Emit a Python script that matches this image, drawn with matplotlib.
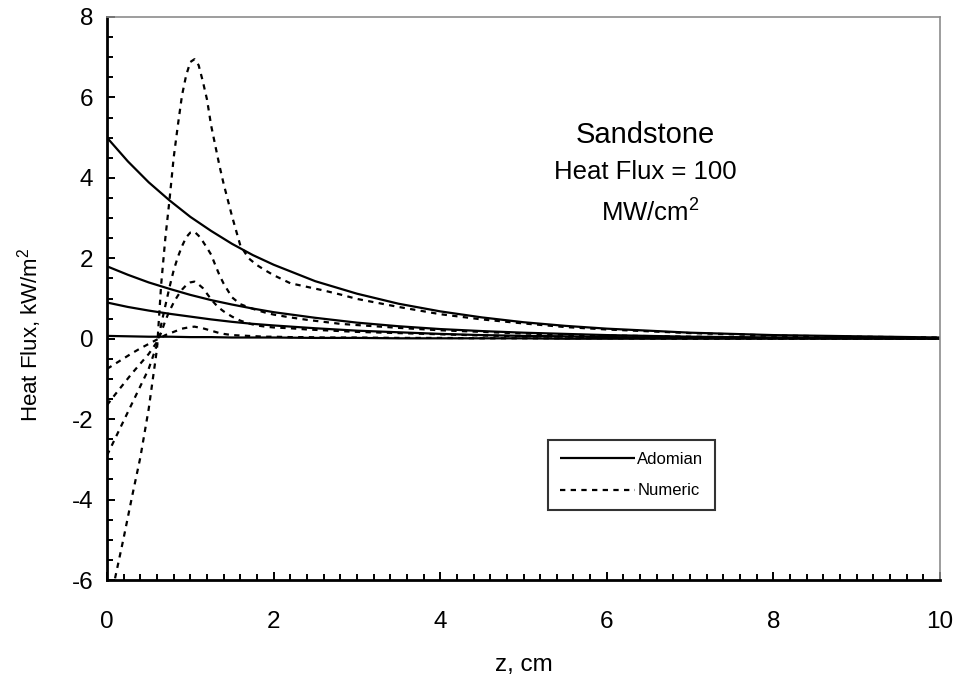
import matplotlib
matplotlib.use("Agg")
import matplotlib.pyplot as plt
from matplotlib.ticker import MultipleLocator

plt.rcParams['font.family'] = ['Liberation Sans', 'DejaVu Sans']
plt.rcParams['mathtext.fontset'] = 'custom'
plt.rcParams['mathtext.rm'] = 'Liberation Sans'
plt.rcParams['axes.unicode_minus'] = False

# ---- data ----
z_adomian = [0, 0.25, 0.5, 0.75, 1, 1.25, 1.5, 1.75, 2, 2.5, 3, 3.5, 4, 4.5, 5, 5.5, 6, 7, 8, 9, 10]
adomian_1 = [5.00, 4.41, 3.89, 3.44, 3.03, 2.68, 2.36, 2.08, 1.84, 1.43, 1.12, 0.87, 0.68, 0.53, 0.41, 0.32, 0.25, 0.15, 0.09, 0.06, 0.03]
adomian_2 = [1.80, 1.59, 1.40, 1.24, 1.09, 0.96, 0.85, 0.75, 0.66, 0.52, 0.40, 0.31, 0.24, 0.19, 0.15, 0.12, 0.09, 0.05, 0.03, 0.02, 0.01]
adomian_3 = [0.90, 0.79, 0.70, 0.62, 0.55, 0.48, 0.42, 0.37, 0.33, 0.26, 0.20, 0.16, 0.12, 0.09, 0.07, 0.06, 0.04, 0.03, 0.02, 0.01, 0.01]
adomian_4 = [0.07, 0.06, 0.05, 0.05, 0.04, 0.04, 0.03, 0.03, 0.03, 0.02, 0.02, 0.01, 0.01, 0.01, 0.01, 0.00, 0.00, 0.00, 0.00, 0.00, 0.00]

z_numeric = [0, 0.1, 0.2, 0.3, 0.4, 0.5, 0.6, 0.65, 0.7, 0.75, 0.8, 0.85, 0.9, 0.95, 1.0, 1.05,
             1.1, 1.15, 1.2, 1.25, 1.3, 1.35, 1.4, 1.5, 1.6, 1.7, 1.8, 1.9, 2.0, 2.2, 2.4, 2.6,
             2.8, 3.0, 3.5, 4, 4.5, 5, 5.5, 6, 7, 8, 9, 10]
numeric_1 = [-7.00, -5.92, -4.95, -3.93, -2.95, -1.75, -0.25, 1.35, 2.50, 3.45, 4.50, 5.30, 6.05, 6.55, 6.88, 6.95,
             6.80, 6.40, 5.95, 5.30, 4.80, 4.30, 3.85, 3.05, 2.32, 2.00, 1.83, 1.70, 1.58, 1.38, 1.29, 1.20,
             1.10, 0.99, 0.79, 0.61, 0.48, 0.38, 0.29, 0.23, 0.14, 0.08, 0.05, 0.03]
numeric_2 = [-2.90, -2.47, -2.04, -1.61, -1.18, -0.75, -0.15, 0.35, 0.82, 1.28, 1.70, 2.03, 2.30, 2.52, 2.64, 2.66,
             2.56, 2.42, 2.26, 2.09, 1.83, 1.58, 1.37, 1.03, 0.86, 0.78, 0.71, 0.65, 0.60, 0.53, 0.47, 0.42,
             0.37, 0.34, 0.27, 0.21, 0.17, 0.13, 0.10, 0.08, 0.05, 0.03, 0.02, 0.01]
numeric_3 = [-1.65, -1.38, -1.12, -0.86, -0.62, -0.38, -0.08, 0.15, 0.45, 0.69, 0.90, 1.07, 1.22, 1.33, 1.40, 1.42,
             1.35, 1.26, 1.12, 0.98, 0.86, 0.76, 0.68, 0.55, 0.45, 0.38, 0.33, 0.30, 0.28, 0.26, 0.23, 0.21,
             0.19, 0.17, 0.14, 0.11, 0.08, 0.06, 0.05, 0.04, 0.02, 0.01, 0.01, 0.00]
numeric_4 = [-0.75, -0.62, -0.49, -0.36, -0.24, -0.13, -0.02, 0.03, 0.09, 0.13, 0.17, 0.21, 0.25, 0.27, 0.29, 0.30,
             0.28, 0.26, 0.23, 0.20, 0.17, 0.14, 0.12, 0.09, 0.08, 0.07, 0.06, 0.05, 0.05, 0.04, 0.04, 0.03,
             0.03, 0.03, 0.02, 0.02, 0.01, 0.01, 0.01, 0.01, 0.00, 0.00, 0.00, 0.00]

x_ticks = [0, 2, 4, 6, 8, 10]
y_ticks = [-6, -4, -2, 0, 2, 4, 6, 8]

# ---- figure ----
fig = plt.figure(figsize=(9.59, 6.87), dpi=100)
ax = fig.add_axes([0.1116, 0.1557, 0.8686, 0.8196])

solid_kw = dict(color='black', lw=1.6, solid_capstyle='butt')
dash_kw = dict(color='black', lw=1.6, linestyle=(0, (2.4, 2.4)))

for i, y in enumerate([adomian_1, adomian_2, adomian_3, adomian_4]):
    ax.plot(z_adomian, y, label='Adomian' if i == 0 else None, **solid_kw)
for i, y in enumerate([numeric_1, numeric_2, numeric_3, numeric_4]):
    ax.plot(z_numeric, y, label='Numeric' if i == 0 else None, **dash_kw)

ax.set_xlim(0, 10)
ax.set_ylim(-6, 8)
ax.set_xticks(x_ticks)
ax.set_yticks(y_ticks)
ax.xaxis.set_minor_locator(MultipleLocator(0.2))
ax.yaxis.set_minor_locator(MultipleLocator(0.5))
ax.tick_params(axis='both', which='both', direction='in', top=False, right=False,
               width=1.4, colors='black', labelsize=17.5)
ax.tick_params(axis='both', which='major', length=6)
ax.tick_params(axis='both', which='minor', length=4)
ax.tick_params(axis='x', which='both', pad=22)
ax.tick_params(axis='y', which='both', pad=10)

for s in ['left', 'bottom']:
    ax.spines[s].set_linewidth(2.0)
    ax.spines[s].set_color('black')
for s in ['top', 'right']:
    ax.spines[s].set_linewidth(1.2)
    ax.spines[s].set_color('#8c8c8c')

ax.set_xlabel('z, cm', fontsize=17.5)
ax.xaxis.set_label_coords(0.5, -(665 - 580) / 563, transform=ax.transAxes)
ax.xaxis.label.set_va('center')
ax.set_ylabel('Heat Flux, kW/m$^2$', fontsize=16)
ax.yaxis.set_label_coords(-(107 - 30) / 833, (580 - 335) / 563, transform=ax.transAxes)
ax.yaxis.label.set_va('center')

fig.text(645 / 959, 1 - 135 / 687, 'Sandstone', fontsize=21, ha='center', va='center')
fig.text(645 / 959, 1 - 172 / 687, 'Heat Flux = 100', fontsize=18.5, ha='center', va='center')
fig.text(650 / 959, 1 - 212 / 687, 'MW/cm$^2$', fontsize=18.5, ha='center', va='center')

leg = ax.legend(loc='upper left', bbox_to_anchor=((548 - 107) / 833, (580 - 440) / 563),
                frameon=True, fancybox=False, edgecolor='black', fontsize=12,
                handlelength=4.5, handletextpad=0.15, labelspacing=1.0, borderpad=0.7,
                borderaxespad=0)
leg.get_frame().set_linewidth(1.5)

fig.savefig('out.png', dpi=100)
